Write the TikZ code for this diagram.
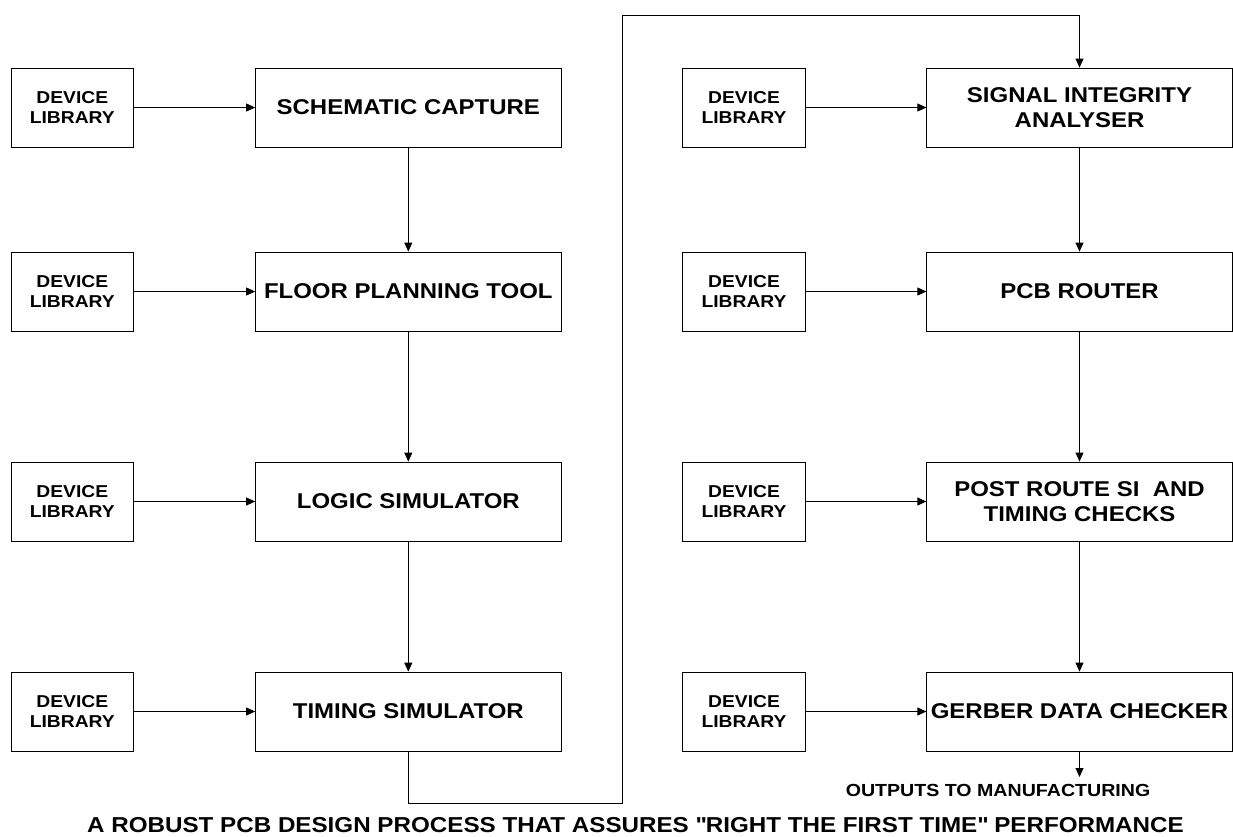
\documentclass[tikz,border=0pt]{standalone}
\usepackage{fontspec}
\setmainfont{Liberation Sans}[FakeStretch=1.12]
\usetikzlibrary{arrows.meta,positioning,calc}
\tikzset{
  devbox/.style = {draw, line width=.8pt, minimum width=122.5pt, minimum height=79pt, inner sep=1pt, align=center, font=\fontsize{17.2}{20}\selectfont\bfseries},
  stagebox/.style = {draw, line width=.8pt, minimum width=305.5pt, minimum height=79pt, inner sep=1pt, align=center, font=\fontsize{21.4}{25}\selectfont\bfseries},
  flow/.style = {-{Triangle[length=9pt,width=8pt]}, line width=.8pt}
}

\begin{document}
\begin{tikzpicture}[x = 1pt, y = -1pt]
    \useasboundingbox (0,0) rectangle (1233,836);
    % left column
    \node[devbox] (dev1) at (72.3,107.5) {DEVICE\\LIBRARY};
    \node[stagebox] (schem) at (408.3,107.5) {SCHEMATIC CAPTURE};
    \node[devbox] (dev2) at (72.3,291.5) {DEVICE\\LIBRARY};
    \node[stagebox] (floor) at (408.3,291.5) {FLOOR PLANNING TOOL};
    \node[devbox] (dev3) at (72.3,501.5) {DEVICE\\LIBRARY};
    \node[stagebox] (logic) at (408.3,501.5) {LOGIC SIMULATOR};
    \node[devbox] (dev4) at (72.3,711.5) {DEVICE\\LIBRARY};
    \node[stagebox] (timing) at (408.3,711.5) {TIMING SIMULATOR};
    % right column
    \node[devbox] (dev5) at (744,107.5) {DEVICE\\LIBRARY};
    \node[stagebox] (sia) at (1079.5,107.5) {SIGNAL INTEGRITY\\ANALYSER};
    \node[devbox] (dev6) at (744,291.5) {DEVICE\\LIBRARY};
    \node[stagebox] (router) at (1079.5,291.5) {PCB ROUTER};
    \node[devbox] (dev7) at (744,501.5) {DEVICE\\LIBRARY};
    \node[stagebox] (postsi) at (1079.5,501.5) {POST ROUTE SI~~AND\\TIMING CHECKS};
    \node[devbox] (dev8) at (744,711.5) {DEVICE\\LIBRARY};
    \node[stagebox] (gerber) at (1079.5,711.5) {GERBER DATA CHECKER};

    \draw[flow] (dev1) -- (schem);
    \draw[flow] (dev2) -- (floor);
    \draw[flow] (dev3) -- (logic);
    \draw[flow] (dev4) -- (timing);
    \draw[flow] (dev5) -- (sia);
    \draw[flow] (dev6) -- (router);
    \draw[flow] (dev7) -- (postsi);
    \draw[flow] (dev8) -- (gerber);

    \draw[flow] (schem) -- (floor);
    \draw[flow] (floor) -- (logic);
    \draw[flow] (logic) -- (timing);
    \draw[flow] (sia) -- (router);
    \draw[flow] (router) -- (postsi);
    \draw[flow] (postsi) -- (gerber);

    % hand-over between the columns
    \coordinate (loopdown) at (622,803);
    \coordinate (loopup) at (622,15);
    \draw[flow] (timing.south) |- (loopdown) -- (loopup) -| (sia.north);

    \coordinate (outend) at (1079.5,777);
    \draw[flow] (gerber.south) -- (outend);
    \node[anchor = base, font = \fontsize{17.5}{20}\selectfont\bfseries] (outtext) at (998,796) {OUTPUTS TO MANUFACTURING};

    \node[anchor = base, font = \fontsize{21.6}{25}\selectfont\bfseries] (title) at (635.5,832.5) {A ROBUST PCB DESIGN PROCESS THAT ASSURES \textquotedbl RIGHT THE FIRST TIME\textquotedbl{} PERFORMANCE};
\end{tikzpicture}
\end{document}
